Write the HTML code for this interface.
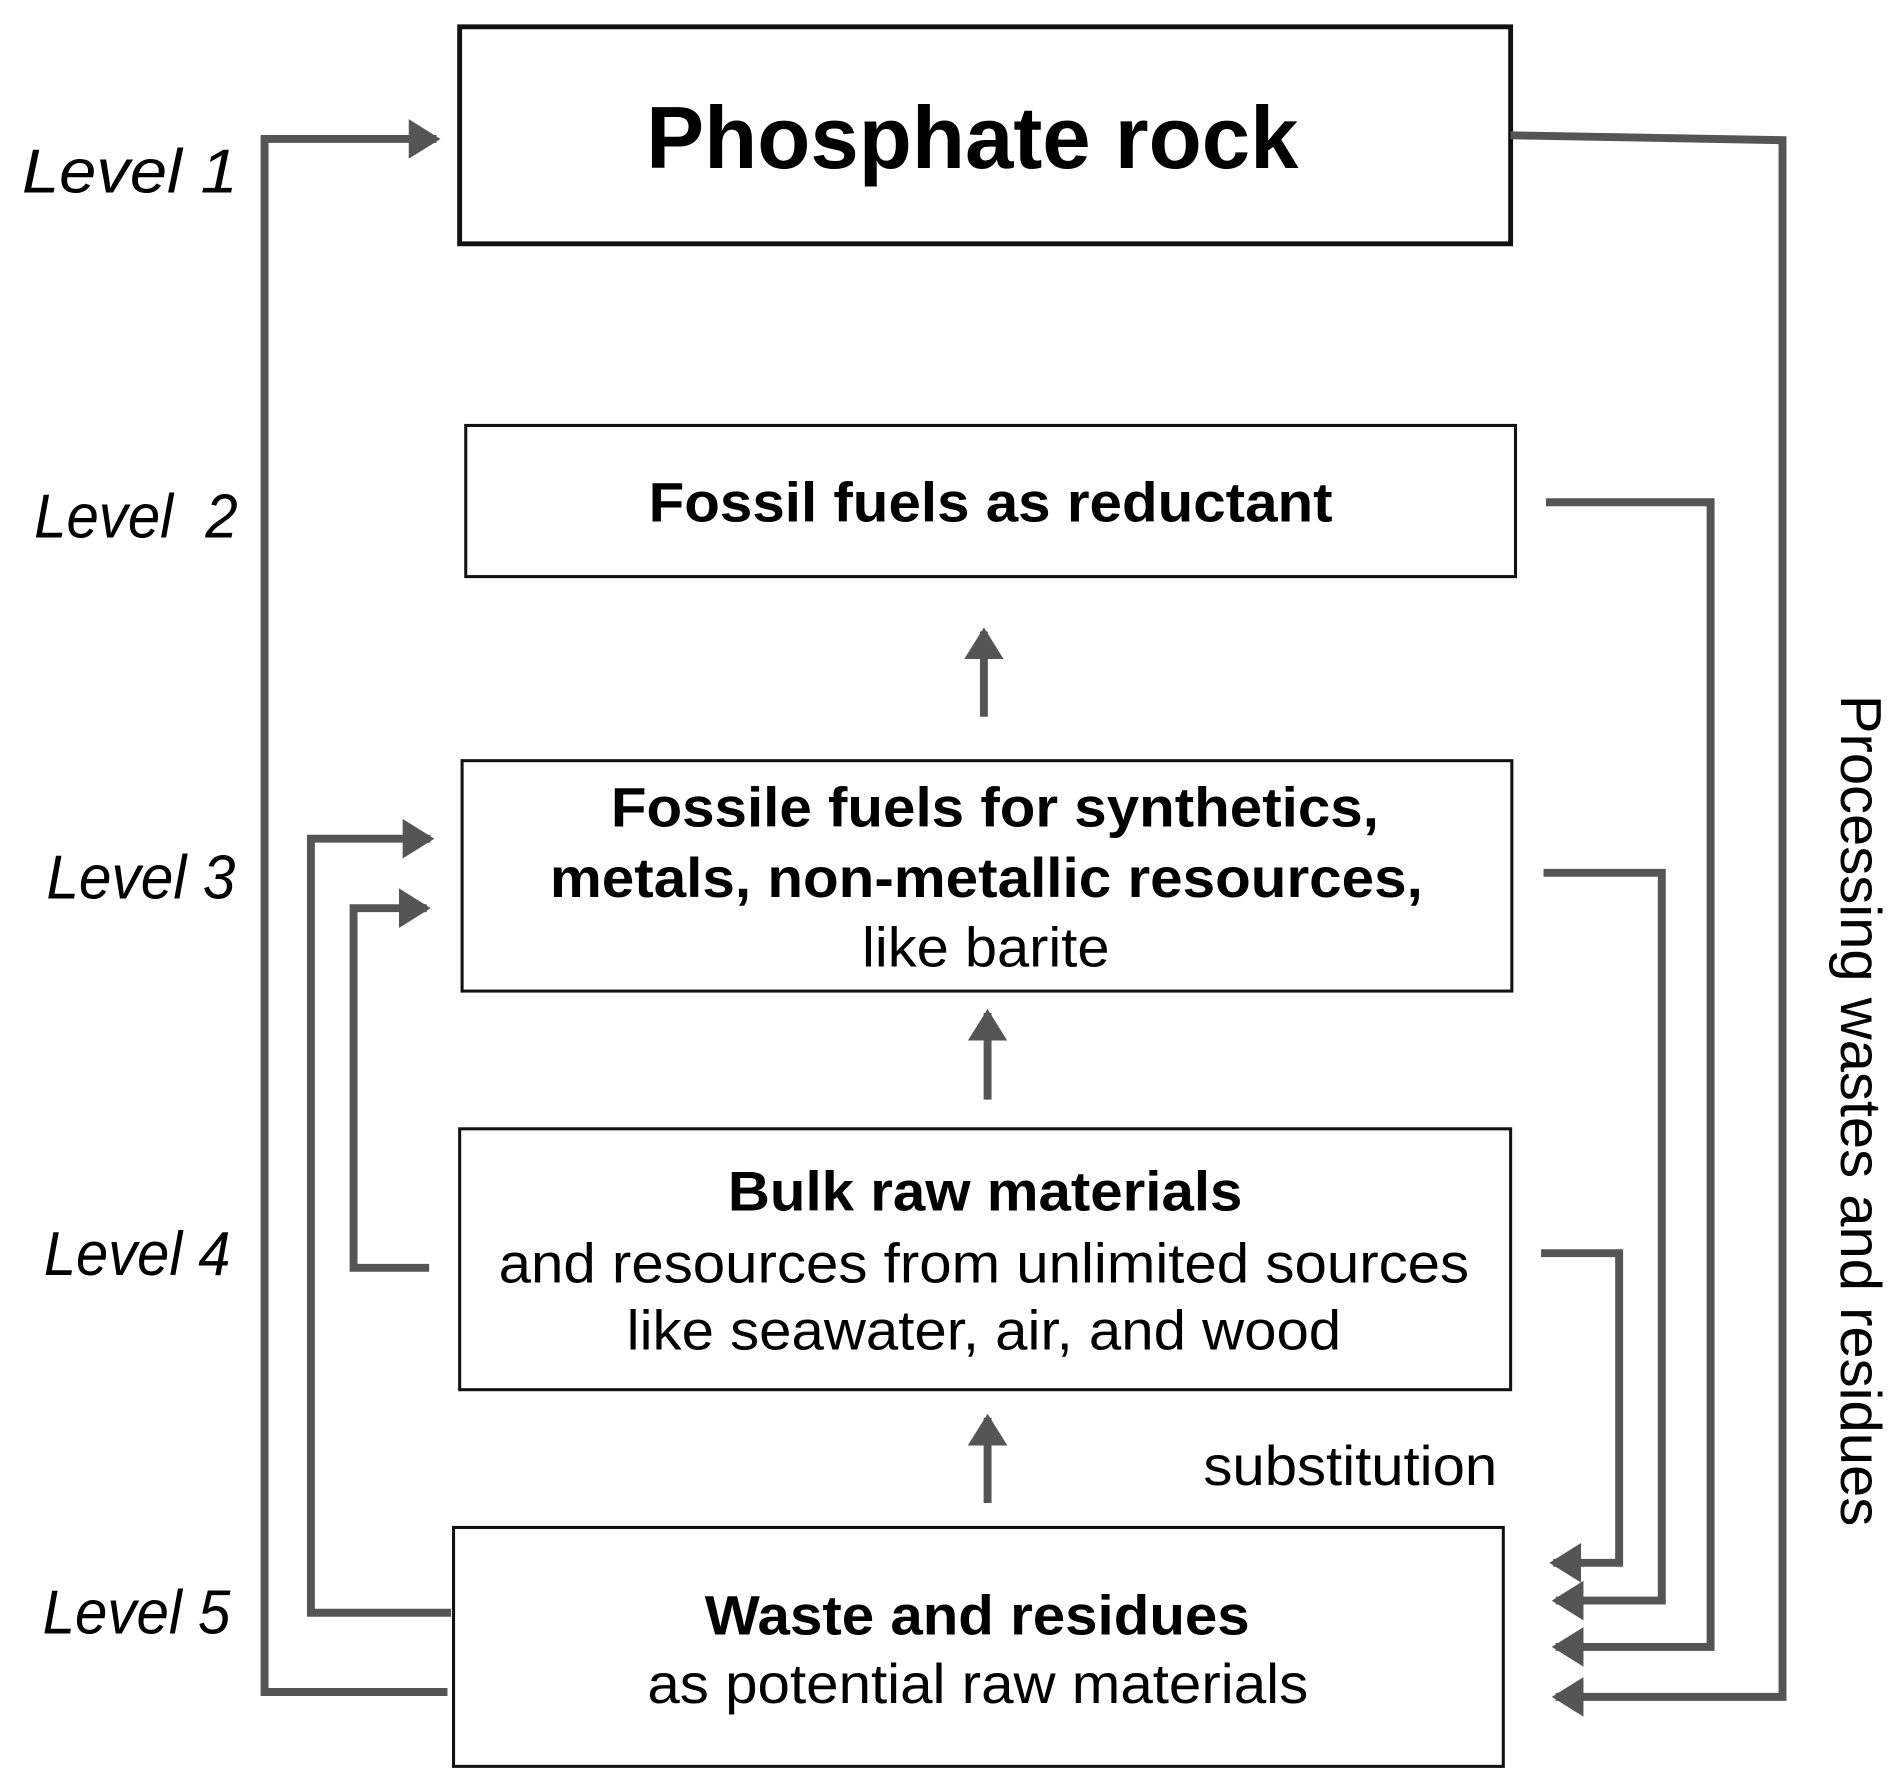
<!DOCTYPE html>
<html><head><meta charset="utf-8"><style>
html,body{margin:0;padding:0;background:#fff;}
svg{display:block;}
text{font-family:"Liberation Sans",Arial,sans-serif;fill:#000;}
</style></head><body>
<svg width="1902" height="1781" viewBox="0 0 1560 1461" preserveAspectRatio="none" xmlns="http://www.w3.org/2000/svg">
<defs>
<marker id="a" markerWidth="4" markerHeight="5" refX="3.5" refY="2.5" orient="auto" markerUnits="strokeWidth">
<path d="M0,0 L4,2.5 L0,5 z" fill="#555"/></marker>
</defs>
<g fill="#fff" stroke="#111">
<rect x="377" y="22" width="862" height="178" stroke-width="4"/>
<rect x="382" y="349" width="861" height="124" stroke-width="2.5"/>
<rect x="379" y="624" width="861" height="189" stroke-width="2.5"/>
<rect x="377" y="926" width="862" height="214" stroke-width="2.5"/>
<rect x="372" y="1253" width="861" height="196" stroke-width="2.5"/>
</g>
<g lengthAdjust="spacingAndGlyphs">
<text x="530" y="138" font-size="72" font-weight="bold" textLength="535" lengthAdjust="spacingAndGlyphs">Phosphate rock</text>
<text x="532" y="428" font-size="46" font-weight="bold" textLength="561" lengthAdjust="spacingAndGlyphs">Fossil fuels as reductant</text>
<text x="501" y="678" font-size="46" font-weight="bold" textLength="630" lengthAdjust="spacingAndGlyphs">Fossile fuels for synthetics,</text>
<text x="451" y="736" font-size="46" font-weight="bold" textLength="716" lengthAdjust="spacingAndGlyphs">metals, non-metallic resources,</text>
<text x="707" y="793" font-size="46" textLength="203" lengthAdjust="spacingAndGlyphs">like barite</text>
<text x="597" y="993" font-size="46" font-weight="bold" textLength="422" lengthAdjust="spacingAndGlyphs">Bulk raw materials</text>
<text x="409" y="1052" font-size="46" textLength="796" lengthAdjust="spacingAndGlyphs">and resources from unlimited sources</text>
<text x="514" y="1107" font-size="46" textLength="586" lengthAdjust="spacingAndGlyphs">like seawater, air, and wood</text>
<text x="578" y="1341" font-size="46" font-weight="bold" textLength="447" lengthAdjust="spacingAndGlyphs">Waste and residues</text>
<text x="531" y="1397" font-size="46" textLength="542" lengthAdjust="spacingAndGlyphs">as potential raw materials</text>
<text x="987" y="1218" font-size="46" textLength="241" lengthAdjust="spacingAndGlyphs">substitution</text>
</g>
<g font-size="51" font-style="italic">
<text x="18" y="158" textLength="177" lengthAdjust="spacingAndGlyphs">Level 1</text>
<text x="28" y="441" xml:space="preserve" textLength="167" lengthAdjust="spacingAndGlyphs">Level  2</text>
<text x="38" y="737" textLength="155" lengthAdjust="spacingAndGlyphs">Level 3</text>
<text x="36" y="1046" textLength="153" lengthAdjust="spacingAndGlyphs">Level 4</text>
<text x="35" y="1340" textLength="154" lengthAdjust="spacingAndGlyphs">Level 5</text>
</g>
<text transform="translate(1510,570) rotate(90)" font-size="47" textLength="682" lengthAdjust="spacingAndGlyphs">Processing wastes and residues</text>
<g fill="none" stroke="#555" stroke-width="6.5" marker-end="url(#a)">
<path d="M807,588 V518"/>
<path d="M810,902 V831"/>
<path d="M810,1233 V1163"/>
<path d="M367,1388 H217 V114 H358"/>
<path d="M370,1323 H255 V688 H353"/>
<path d="M352,1040 H290 V745 H350"/>
<path d="M1239,111 L1462,115 V1392 H1276"/>
<path d="M1268,412 H1403 V1351 H1276"/>
<path d="M1266,716 H1363 V1313 H1276"/>
<path d="M1264,1028 H1328 V1282 H1274"/>
</g>
</svg>
</body></html>
